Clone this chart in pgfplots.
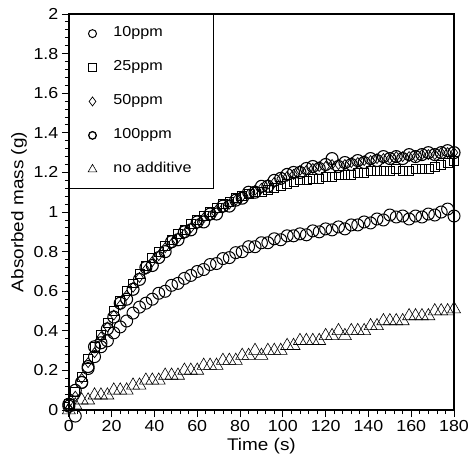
\documentclass[border=0pt]{standalone}
\usepackage{fontspec}
\setmainfont{Liberation Sans}[FakeStretch=1.12]
\usepackage{pgfplots}
\usepackage{pgfplotstable}
\pgfplotsset{compat=1.18}

\pgfplotstableread{
t L S D C T
0 0.02 0.03 0.01 0.03 0.00
3 -0.03 0.09 0.07 0.10 0.025
6 0.14 0.17 0.16 0.14 0.05
9 0.21 0.26 0.24 0.22 0.05
12 0.27 0.32 0.29 0.32 0.075
15 0.32 0.38 0.37 0.34 0.075
18 0.35 0.44 0.42 0.41 0.075
21 0.39 0.50 0.48 0.47 0.10
24 0.42 0.55 0.53 0.54 0.10
27 0.45 0.60 0.58 0.56 0.10
30 0.49 0.64 0.62 0.61 0.125
33 0.52 0.69 0.67 0.66 0.125
36 0.54 0.73 0.71 0.72 0.15
39 0.56 0.77 0.75 0.73 0.15
42 0.59 0.80 0.78 0.77 0.15
45 0.60 0.83 0.82 0.80 0.175
48 0.63 0.86 0.84 0.85 0.175
51 0.64 0.89 0.87 0.86 0.175
54 0.665 0.91 0.89 0.90 0.20
57 0.68 0.94 0.92 0.91 0.20
60 0.70 0.96 0.94 0.95 0.20
63 0.71 0.98 0.97 0.95 0.225
66 0.735 1.00 0.98 0.99 0.225
69 0.74 1.02 1.01 0.99 0.225
72 0.765 1.04 1.02 1.03 0.25
75 0.77 1.05 1.04 1.03 0.25
78 0.795 1.07 1.06 1.06 0.25
81 0.80 1.08 1.08 1.07 0.275
84 0.825 1.09 1.09 1.10 0.275
87 0.825 1.10 1.11 1.10 0.30
90 0.845 1.10 1.12 1.13 0.275
93 0.845 1.11 1.14 1.13 0.30
96 0.865 1.12 1.15 1.16 0.30
99 0.86 1.13 1.17 1.17 0.30
102 0.88 1.14 1.18 1.19 0.325
105 0.88 1.15 1.19 1.20 0.325
108 0.89 1.16 1.21 1.20 0.35
111 0.885 1.16 1.21 1.22 0.35
114 0.905 1.17 1.22 1.23 0.35
117 0.90 1.17 1.23 1.22 0.35
120 0.915 1.18 1.23 1.24 0.375
123 0.91 1.18 1.24 1.27 0.375
126 0.925 1.19 1.24 1.23 0.40
129 0.915 1.19 1.24 1.25 0.375
132 0.935 1.19 1.25 1.24 0.40
135 0.935 1.20 1.25 1.26 0.40
138 0.95 1.20 1.26 1.25 0.40
141 0.945 1.21 1.26 1.27 0.425
144 0.965 1.21 1.27 1.26 0.425
147 0.96 1.21 1.27 1.28 0.45
150 0.985 1.21 1.27 1.27 0.45
153 0.975 1.22 1.28 1.28 0.45
156 0.98 1.21 1.28 1.27 0.45
159 0.965 1.21 1.28 1.29 0.475
162 0.98 1.22 1.28 1.28 0.475
165 0.975 1.22 1.29 1.29 0.475
168 0.99 1.22 1.29 1.30 0.475
171 0.985 1.23 1.29 1.29 0.50
174 1.00 1.24 1.30 1.30 0.50
177 1.015 1.25 1.30 1.31 0.50
180 0.98 1.26 1.30 1.30 0.51
}\data

\newcommand\legw[1]{\makebox[100bp][l]{#1}}

\begin{document}
\begin{tikzpicture}
\begin{axis}[
  scale only axis, width=386bp, height=397bp,
  xmin=0, xmax=180, ymin=0, ymax=2,
  xtick={0,20,40,60,80,100,120,140,160,180},
  ytick={0,0.2,0.4,0.6,0.8,1,1.2,1.4,1.6,1.8,2},
  minor x tick num=4, minor y tick num=4,
  tick align=outside, tick pos=left,
  major tick length=7bp, minor tick length=4bp,
  axis line style={line width=1.4bp},
  every tick/.style={line width=0.8bp, black},
  /pgf/number format/assume math mode=true,
  clip=false,
  xlabel={Time (s)}, ylabel={Absorbed mass (g)},
  tick label style={font=\fontsize{16}{19}\selectfont},
  label style={font=\fontsize{17}{20}\selectfont},
  legend style={at={(0,1)}, anchor=north west, draw=black, line width=1.4bp,
    font=\fontsize{14.5}{17}\selectfont, row sep=0pt, inner xsep=0pt, inner ysep=2bp,
    nodes={inner sep=0pt, draw=none}},
  legend cell align=left,
  legend image code/.code={\path[draw=none, fill=none] (-23bp,-18bp) rectangle (21bp,16bp); \draw[#1] plot coordinates {(0bp,-1bp)};},
]
\addplot[only marks, mark=o, mark size=6bp, line width=1bp, legend image post style={mark size=4bp, line width=1bp}] table[x=t,y=L]{\data};
\addlegendentry{\legw{10ppm}}
\addplot[only marks, mark=square, mark size=4.5bp, line width=0.7bp, legend image post style={mark size=4bp, line width=0.7bp}] table[x=t,y=S]{\data};
\addlegendentry{\legw{25ppm}}
\addplot[only marks, mark=diamond, mark size=5bp, line width=0.7bp, legend image post style={mark size=4.5bp, line width=0.7bp}] table[x=t,y=D]{\data};
\addlegendentry{\legw{50ppm}}
\addplot[only marks, mark=o, mark size=6bp, line width=1.1bp, legend image post style={mark size=3.8bp, line width=1.3bp}] table[x=t,y=C]{\data};
\addlegendentry{\legw{100ppm}}
\addplot[only marks, mark=triangle, mark size=7.5bp, line width=0.6bp, legend image post style={mark size=5bp, line width=0.6bp}] table[x=t,y=T]{\data};
\addlegendentry{\legw{no additive}}
\end{axis}
\pgfresetboundingbox
\path ([xshift=-69bp,yshift=-61bp]current axis.south west) rectangle ([xshift=15bp,yshift=14bp]current axis.north east);
\end{tikzpicture}
\end{document}
